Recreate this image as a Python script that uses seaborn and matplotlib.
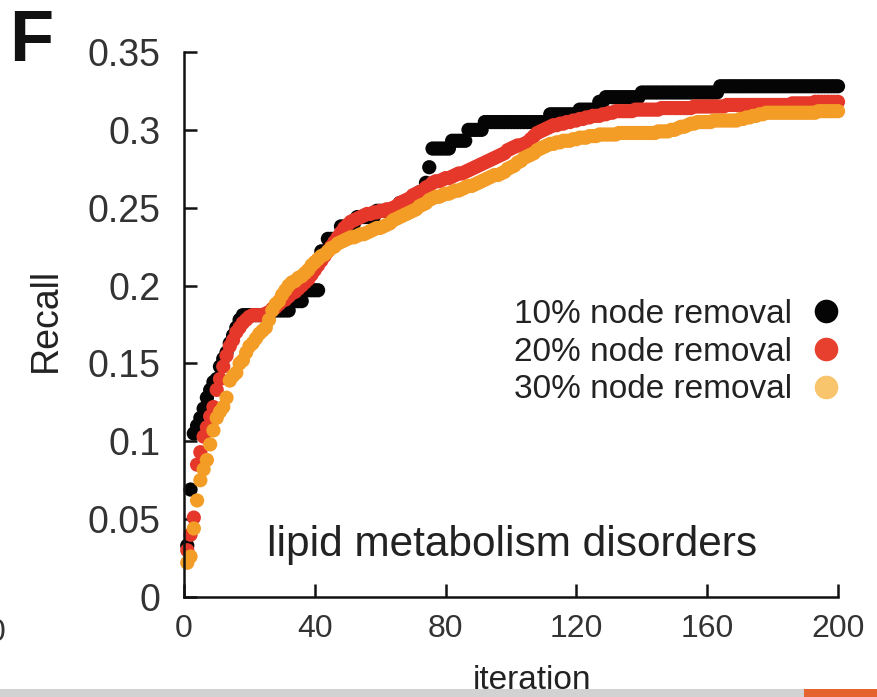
import matplotlib
matplotlib.use("Agg")
import matplotlib.pyplot as plt
from matplotlib.lines import Line2D
from matplotlib.patches import Rectangle
import seaborn as sns
import pandas as pd

# ---------------- data ----------------
iterations = list(range(1, 201))

recall_10 = [
    0.033, 0.069, 0.105, 0.110, 0.115, 0.121, 0.128, 0.133, 0.138, 0.140,
    0.148, 0.153, 0.157, 0.163, 0.168, 0.173, 0.178, 0.181, 0.181, 0.181,
    0.181, 0.181, 0.181, 0.181, 0.181, 0.181, 0.184, 0.184, 0.184, 0.184,
    0.184, 0.184, 0.190, 0.190, 0.190, 0.190, 0.197, 0.197, 0.197, 0.197,
    0.197, 0.222, 0.222, 0.230, 0.230, 0.230, 0.230, 0.238, 0.238, 0.238,
    0.240, 0.240, 0.244, 0.244, 0.244, 0.244, 0.244, 0.244, 0.248, 0.248,
    0.248, 0.248, 0.248, 0.248, 0.248, 0.253, 0.253, 0.253, 0.253, 0.253,
    0.253, 0.260, 0.260, 0.266, 0.276, 0.288, 0.288, 0.288, 0.288, 0.288,
    0.288, 0.293, 0.293, 0.293, 0.293, 0.293, 0.300, 0.300, 0.300, 0.300,
    0.300, 0.305, 0.305, 0.305, 0.305, 0.305, 0.305, 0.305, 0.305, 0.305,
    0.305, 0.305, 0.305, 0.305, 0.305, 0.305, 0.305, 0.305, 0.305, 0.305,
    0.305, 0.310, 0.310, 0.310, 0.310, 0.310, 0.310, 0.310, 0.310, 0.310,
    0.313, 0.313, 0.313, 0.313, 0.313, 0.313, 0.318, 0.318, 0.321, 0.321,
    0.321, 0.321, 0.321, 0.321, 0.321, 0.321, 0.321, 0.321, 0.321, 0.324,
    0.324, 0.324, 0.324, 0.324, 0.324, 0.324, 0.324, 0.324, 0.324, 0.324,
    0.324, 0.324, 0.324, 0.324, 0.324, 0.324, 0.324, 0.324, 0.324, 0.324,
    0.324, 0.324, 0.324, 0.328, 0.328, 0.328, 0.328, 0.328, 0.328, 0.328,
    0.328, 0.328, 0.328, 0.328, 0.328, 0.328, 0.328, 0.328, 0.328, 0.328,
    0.328, 0.328, 0.328, 0.328, 0.328, 0.328, 0.328, 0.328, 0.328, 0.328,
    0.328, 0.328, 0.328, 0.328, 0.328, 0.328, 0.328, 0.328, 0.328, 0.328,
]

recall_20 = [
    0.030, 0.040, 0.051, 0.085, 0.093, 0.103, 0.109, 0.116, 0.122, 0.133,
    0.140, 0.148, 0.155, 0.161, 0.165, 0.170, 0.173, 0.176, 0.178, 0.180,
    0.181, 0.181, 0.181, 0.181, 0.182, 0.183, 0.185, 0.186, 0.188, 0.190,
    0.191, 0.193, 0.195, 0.196, 0.198, 0.200, 0.202, 0.204, 0.207, 0.210,
    0.213, 0.216, 0.219, 0.222, 0.225, 0.228, 0.231, 0.234, 0.237, 0.239,
    0.241, 0.242, 0.243, 0.244, 0.245, 0.246, 0.246, 0.247, 0.247, 0.248,
    0.248, 0.249, 0.249, 0.250, 0.251, 0.253, 0.254, 0.255, 0.256, 0.258,
    0.259, 0.260, 0.261, 0.263, 0.264, 0.266, 0.267, 0.267, 0.268, 0.269,
    0.269, 0.270, 0.271, 0.272, 0.272, 0.273, 0.274, 0.275, 0.276, 0.277,
    0.278, 0.279, 0.280, 0.281, 0.282, 0.283, 0.284, 0.285, 0.287, 0.288,
    0.289, 0.290, 0.290, 0.291, 0.292, 0.294, 0.296, 0.298, 0.299, 0.300,
    0.301, 0.302, 0.303, 0.303, 0.304, 0.304, 0.305, 0.305, 0.306, 0.306,
    0.307, 0.307, 0.308, 0.308, 0.309, 0.309, 0.309, 0.310, 0.310, 0.311,
    0.311, 0.312, 0.312, 0.312, 0.312, 0.312, 0.312, 0.313, 0.313, 0.313,
    0.313, 0.313, 0.313, 0.313, 0.313, 0.314, 0.314, 0.314, 0.314, 0.314,
    0.314, 0.314, 0.314, 0.314, 0.314, 0.315, 0.315, 0.315, 0.315, 0.315,
    0.315, 0.315, 0.315, 0.315, 0.315, 0.316, 0.316, 0.316, 0.316, 0.316,
    0.316, 0.316, 0.316, 0.316, 0.316, 0.316, 0.316, 0.316, 0.316, 0.316,
    0.316, 0.316, 0.316, 0.316, 0.316, 0.317, 0.317, 0.317, 0.317, 0.317,
    0.317, 0.317, 0.318, 0.318, 0.318, 0.318, 0.318, 0.318, 0.318, 0.318,
]

recall_30 = [
    0.022, 0.026, 0.044, 0.062, 0.075, 0.082, 0.088, 0.098, 0.107, 0.115,
    0.119, 0.122, 0.128, 0.139, 0.142, 0.144, 0.150, 0.152, 0.157, 0.161,
    0.163, 0.166, 0.169, 0.171, 0.173, 0.178, 0.184, 0.188, 0.190, 0.194,
    0.197, 0.200, 0.202, 0.203, 0.205, 0.206, 0.208, 0.210, 0.213, 0.215,
    0.217, 0.219, 0.220, 0.222, 0.224, 0.225, 0.227, 0.228, 0.229, 0.230,
    0.231, 0.231, 0.232, 0.233, 0.233, 0.234, 0.235, 0.236, 0.237, 0.237,
    0.238, 0.239, 0.240, 0.242, 0.243, 0.244, 0.245, 0.246, 0.247, 0.248,
    0.249, 0.251, 0.252, 0.253, 0.255, 0.256, 0.257, 0.257, 0.258, 0.259,
    0.259, 0.260, 0.261, 0.261, 0.262, 0.263, 0.264, 0.264, 0.265, 0.266,
    0.267, 0.268, 0.269, 0.270, 0.271, 0.271, 0.272, 0.273, 0.275, 0.276,
    0.277, 0.279, 0.280, 0.282, 0.283, 0.284, 0.285, 0.287, 0.288, 0.289,
    0.290, 0.291, 0.291, 0.292, 0.292, 0.293, 0.293, 0.293, 0.294, 0.294,
    0.295, 0.295, 0.295, 0.296, 0.296, 0.296, 0.297, 0.297, 0.297, 0.297,
    0.297, 0.297, 0.298, 0.298, 0.298, 0.298, 0.298, 0.298, 0.298, 0.298,
    0.298, 0.298, 0.298, 0.298, 0.299, 0.299, 0.299, 0.299, 0.300, 0.300,
    0.301, 0.302, 0.302, 0.303, 0.304, 0.304, 0.305, 0.305, 0.305, 0.305,
    0.305, 0.306, 0.306, 0.306, 0.306, 0.306, 0.306, 0.306, 0.306, 0.307,
    0.307, 0.308, 0.308, 0.309, 0.309, 0.310, 0.310, 0.311, 0.311, 0.311,
    0.311, 0.311, 0.311, 0.311, 0.311, 0.311, 0.311, 0.311, 0.311, 0.311,
    0.311, 0.311, 0.311, 0.312, 0.312, 0.312, 0.312, 0.312, 0.312, 0.312,
]

series_labels = ["10% node removal", "20% node removal", "30% node removal"]
x_ticks = [0, 40, 80, 120, 160, 200]
y_ticks = [0, 0.05, 0.1, 0.15, 0.2, 0.25, 0.3, 0.35]
y_tick_labels = ["0", "0.05", "0.1", "0.15", "0.2", "0.25", "0.3", "0.35"]
annotation = "lipid metabolism disorders"

# ---------------- styling ----------------
sns.set_style("ticks")
plt.rcParams["font.family"] = ["Liberation Sans", "DejaVu Sans"]
plt.rcParams["text.color"] = "#222222"

curve_colors = {series_labels[0]: "#050505",
                series_labels[1]: "#e5382a",
                series_labels[2]: "#f39c26"}
legend_colors = ["#050505", "#e8402f", "#f8c46c"]

df = pd.DataFrame({
    "iteration": iterations * 3,
    "recall": recall_10 + recall_20 + recall_30,
    "series": [series_labels[0]] * 200 + [series_labels[1]] * 200 + [series_labels[2]] * 200,
})

W, H = 878, 697
fig = plt.figure(figsize=(W / 100, H / 100), dpi=100)
ax = fig.add_axes([184 / W, (H - 597) / H, (838 - 184) / W, (597 - 52) / H])

sns.scatterplot(data=df, x="iteration", y="recall", hue="series",
                palette=curve_colors, hue_order=series_labels,
                s=105, linewidth=0, legend=False, ax=ax, clip_on=False)

ax.set_xlim(0, 200)
ax.set_ylim(0, 0.35)
ax.set_xticks(x_ticks)
ax.set_xticklabels([str(t) for t in x_ticks])
ax.set_yticks(y_ticks)
ax.set_yticklabels(y_tick_labels)
ax.set_xlabel("")
ax.set_ylabel("")
sns.despine(ax=ax)
for sp in ["left", "bottom"]:
    ax.spines[sp].set_linewidth(1.8)
    ax.spines[sp].set_color("#111111")
ax.tick_params(axis="both", direction="in", length=9.5, width=1.8, colors="#111111",
               labelcolor="#333333")
ax.tick_params(axis="y", labelsize=27, pad=17)
ax.tick_params(axis="x", labelsize=23, pad=12)

# legend (markers to the right of labels)
handles = [Line2D([0], [0], marker="o", linestyle="none", markersize=17,
                  markerfacecolor=c, markeredgewidth=0) for c in legend_colors]
leg = fig.legend(handles, series_labels, loc="center right",
                 bbox_to_anchor=(842 / W, 1 - 352 / H),
                 bbox_transform=fig.transFigure, frameon=False,
                 markerfirst=False, fontsize=24, handlelength=0.95,
                 handletextpad=0.55, labelspacing=0.2, borderpad=0,
                 borderaxespad=0)
for t in leg.get_texts():
    t.set_color("#222222")

# annotation and labels
fig.text(512 / W, 1 - 545 / H, annotation, ha="center", va="center",
         fontsize=30.5, color="#222222")
fig.text(46 / W, 1 - 320 / H, "Recall", rotation=90, ha="center", va="center",
         fontsize=27, color="#222222")
fig.text(532 / W, 1 - 689 / H, "iteration", ha="center", va="baseline",
         fontsize=24, color="#222222")
fig.text(31 / W, 1 - 42 / H, "F", ha="center", va="center", fontsize=52,
         fontweight="bold", color="#111111")
fig.text(-3 / W, 1 - 633 / H, "0", ha="center", va="center", fontsize=23,
         color="#333333")

# bottom strip of the screenshot
fig.add_artist(Rectangle((0, 0), 1, 8 / H, transform=fig.transFigure,
                         facecolor="#d2d2d2", edgecolor="none", zorder=10))
fig.add_artist(Rectangle((804 / W, 0), 1 - 804 / W, 8 / H, transform=fig.transFigure,
                         facecolor="#e4632e", edgecolor="none", zorder=11))

fig.savefig("out.png", dpi=100)
